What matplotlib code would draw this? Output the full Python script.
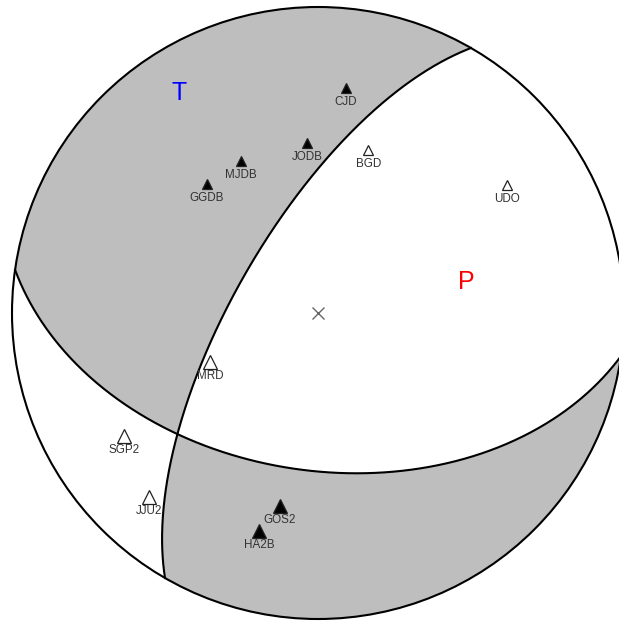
import numpy as np
import matplotlib
matplotlib.use("Agg")
import matplotlib.pyplot as plt
from matplotlib.patches import Circle

# focal mechanism (fault plane, degrees)
strike = 210.0
dip = 68.0
rake = -133.0

# stations: azimuth, takeoff angle, first-motion polarity (1 = up / compression)
stations = ["CJD", "JODB", "MJDB", "GGDB", "BGD", "UDO", "MRD", "SGP2", "JJU2", "GOS2", "HA2B"]
azimuth = [7.1, 356.3, 333.1, 319.3, 17.1, 55.9, 245.6, 237.6, 222.6, 191.1, 195.1]
takeoff = [63.3, 46.4, 46.4, 46.3, 46.4, 63.7, 31.8, 64.3, 70.5, 54.2, 62.9]
polarity = [1, 1, 1, 1, 0, 0, 0, 0, 0, 1, 1]

# P / T axes (trend, plunge)
t_axis = (327.7, 16.1)
p_axis = (78.2, 48.9)

# marker sizes (style only)
tri_size = [7.5, 7.5, 7.5, 7.5, 7.5, 7.0, 10.5, 10.0, 10.0, 10.0, 10.5]


def moment_tensor(phi, delta, lam):
    phi, delta, lam = np.radians([phi, delta, lam])
    mxx = -(np.sin(delta) * np.cos(lam) * np.sin(2 * phi)
            + np.sin(2 * delta) * np.sin(lam) * np.sin(phi) ** 2)
    mxy = (np.sin(delta) * np.cos(lam) * np.cos(2 * phi)
           + 0.5 * np.sin(2 * delta) * np.sin(lam) * np.sin(2 * phi))
    mxz = -(np.cos(delta) * np.cos(lam) * np.cos(phi)
            + np.cos(2 * delta) * np.sin(lam) * np.sin(phi))
    myy = (np.sin(delta) * np.cos(lam) * np.sin(2 * phi)
           - np.sin(2 * delta) * np.sin(lam) * np.cos(phi) ** 2)
    myz = -(np.cos(delta) * np.cos(lam) * np.sin(phi)
            - np.cos(2 * delta) * np.sin(lam) * np.cos(phi))
    mzz = np.sin(2 * delta) * np.sin(lam)
    return np.array([[mxx, mxy, mxz], [mxy, myy, myz], [mxz, myz, mzz]])


def project(trend, plunge):
    # lower hemisphere, equal area
    r = np.sqrt(2) * np.sin(np.radians(90 - np.asarray(plunge)) / 2)
    t = np.radians(trend)
    return r * np.sin(t), r * np.cos(t)


def great_circle(normal):
    normal = normal / np.linalg.norm(normal)
    a = np.cross(normal, [0, 0, 1.0])
    a /= np.linalg.norm(a)
    b = np.cross(normal, a)
    if b[2] < 0:
        b = -b
    t = np.linspace(0, np.pi, 400)
    v = np.outer(np.cos(t), a) + np.outer(np.sin(t), b)
    trend = np.degrees(np.arctan2(v[:, 1], v[:, 0]))
    plunge = np.degrees(np.arcsin(np.clip(v[:, 2], -1, 1)))
    return project(trend, plunge)


M = moment_tensor(strike, dip, rake)

phi, dl, lm = np.radians([strike, dip, rake])
n1 = np.array([-np.sin(dl) * np.sin(phi), np.sin(dl) * np.cos(phi), -np.cos(dl)])
slip = np.array([np.cos(lm) * np.cos(phi) + np.sin(lm) * np.cos(dl) * np.sin(phi),
                 np.cos(lm) * np.sin(phi) - np.sin(lm) * np.cos(dl) * np.cos(phi),
                 -np.sin(lm) * np.sin(dl)])

# radiation pattern on a grid
g = np.linspace(-1, 1, 1200)
X, Y = np.meshgrid(g, g)
R = np.hypot(X, Y)
inc = 2 * np.arcsin(np.clip(R / np.sqrt(2), 0, 1))
az = np.arctan2(X, Y)
vec = np.stack([np.sin(inc) * np.cos(az), np.sin(inc) * np.sin(az), np.cos(inc)])
amp = np.einsum("iab,ij,jab->ab", vec, M, vec)
amp[R > 1.0] = np.nan

W, H = 619, 624
cx, cy, rad = 318, 313, 306
fig = plt.figure(figsize=(W / 100, H / 100), dpi=100)
ax = fig.add_axes([0, 0, 1, 1])
ax.set_xlim(-cx / rad, (W - cx) / rad)
ax.set_ylim(-(H - cy) / rad, cy / rad)
ax.set_aspect("equal")
ax.axis("off")

cs = ax.contourf(X, Y, amp, levels=[0, 1e6], colors=["#bebebe"])
disk = Circle((0, 0), 1, transform=ax.transData)
cs.set_clip_path(disk)

for nrm in (n1, slip):
    x, y = great_circle(nrm)
    ax.plot(x, y, color="black", lw=1.5, zorder=3)

ax.add_patch(Circle((0, 0), 1, fill=False, ec="black", lw=1.5, zorder=4))

# centre
ax.plot(0, 0, marker="x", ms=9, mew=1.0, color="#666666", zorder=5)

# stations
sx, sy = project(azimuth, 90 - np.asarray(takeoff))
for name, x, y, pol, ms in zip(stations, sx, sy, polarity, tri_size):
    face = "black" if pol == 1 else "white"
    ax.plot(x, y, marker="^", ms=ms, mfc=face, mec="#222222", mew=0.9, zorder=6)
    ax.annotate(name, (x, y), xytext=(0, -10), textcoords="offset points",
                ha="center", va="center", fontsize=8.4, color="#333333",
                family="Liberation Sans", zorder=7)

tx, ty = project(*t_axis)
px, py = project(*p_axis)
ax.text(tx, ty, "T", color="blue", fontsize=18, ha="center", va="center",
        family="Liberation Sans", zorder=7)
ax.text(px, py, "P", color="red", fontsize=18, ha="center", va="center",
        family="Liberation Sans", zorder=7)

fig.savefig("out.png", dpi=100)
